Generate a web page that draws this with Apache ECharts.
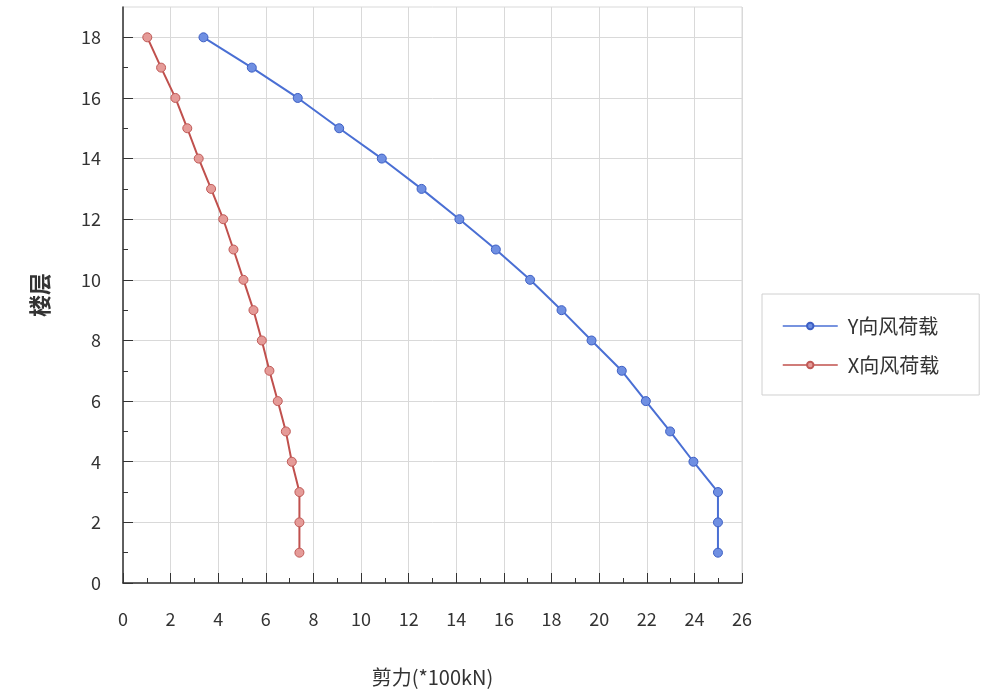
<!DOCTYPE html>
<html>
<head>
<meta charset="utf-8">
<script src="https://cdn.jsdelivr.net/npm/echarts@6/dist/echarts.min.js"></script>
<style>
html,body{margin:0;padding:0;background:#fff;}
#chart{width:986px;height:697px;}
</style>
</head>
<body>
<div id="chart"></div>
<script>
const floors = [18,17,16,15,14,13,12,11,10,9,8,7,6,5,4,3,2,1];
const yWind = [3.38,5.41,7.34,9.08,10.87,12.54,14.13,15.66,17.10,18.42,19.68,20.95,21.96,22.98,23.96,24.99,24.99,24.99];
const xWind = [1.02,1.60,2.20,2.70,3.18,3.70,4.21,4.64,5.06,5.48,5.83,6.15,6.50,6.84,7.09,7.41,7.41,7.41];
const seriesNames = ['Y向风荷载','X向风荷载'];
const yMajor = [0,2,4,6,8,10,12,14,16,18];
const yMinor = [1,3,5,7,9,11,13,15,17];
const xTitle = '剪力(*100kN)';
const yTitle = '楼层';

const FONT = '"Noto Sans CJK SC","Noto Sans",sans-serif';
const chart = echarts.init(document.getElementById('chart'));
const pairs = (vals) => vals.map((v,i)=>[v, floors[i]]);

chart.setOption({
  animation:false,
  backgroundColor:'#fff',
  grid:{left:123,right:244,top:7,bottom:114,show:true,borderColor:'#d9d9d9',borderWidth:1},
  legend:{
    orient:'vertical', left:762, top:294,
    data:seriesNames,
    borderColor:'#d0d0d0', borderWidth:1,
    padding:[22,40,20,20],
    itemWidth:55, itemHeight:8, itemGap:19,
    lineStyle:{width:1.5},
    textStyle:{fontSize:20,color:'#333',fontFamily:FONT,padding:[0,0,0,5]}
  },
  xAxis:{
    type:'value', min:0, max:26, interval:2,
    name:xTitle, nameLocation:'middle', nameGap:84,
    nameTextStyle:{fontSize:20,color:'#333',fontFamily:FONT},
    axisLine:{show:true,lineStyle:{color:'#333',width:1.5}},
    axisTick:{show:true,inside:true,length:10,lineStyle:{color:'#333'}},
    minorTick:{show:true,splitNumber:2,length:5,lineStyle:{color:'#333'}},
    axisLabel:{fontSize:18,color:'#333',margin:27,fontFamily:FONT},
    splitLine:{show:true,lineStyle:{color:'#d9d9d9'}}
  },
  yAxis:[{
    type:'value', min:0, max:19, interval:2,
    name:yTitle, nameLocation:'middle', nameGap:72,
    nameTextStyle:{fontSize:22,fontWeight:'bold',color:'#333',fontFamily:FONT},
    axisLine:{show:true,lineStyle:{color:'#333',width:1.5}},
    axisTick:{show:true,inside:true,length:10,customValues:yMajor,lineStyle:{color:'#333'}},
    axisLabel:{fontSize:18,color:'#333',margin:22,fontFamily:FONT,customValues:yMajor},
    splitLine:{show:true,lineStyle:{color:'#d9d9d9'}}
  },{
    type:'value', min:0, max:19, interval:1, position:'left',
    axisLine:{show:false},
    axisTick:{show:true,inside:true,length:5,customValues:yMinor,lineStyle:{color:'#333'}},
    axisLabel:{show:false},
    splitLine:{show:false}
  }],
  series:[{
    name:seriesNames[0], type:'line', data:pairs(yWind),
    symbol:'circle', symbolSize:9,
    lineStyle:{color:'#4a6fd4',width:2},
    itemStyle:{color:'#6f8fe2',borderColor:'#3d5fc4',borderWidth:1}
  },{
    name:seriesNames[1], type:'line', data:pairs(xWind),
    symbol:'circle', symbolSize:9,
    lineStyle:{color:'#c0504d',width:2},
    itemStyle:{color:'#e59b98',borderColor:'#c05a57',borderWidth:1}
  }]
});
</script>
</body>
</html>
